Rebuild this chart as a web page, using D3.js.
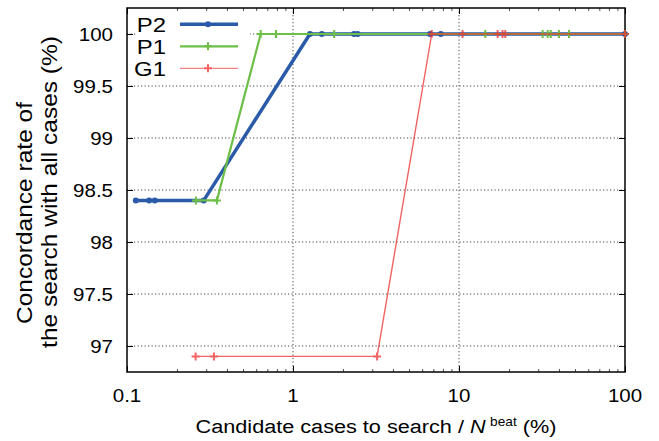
<!DOCTYPE html>
<html>
<head>
<meta charset="utf-8">
<script src="https://cdn.jsdelivr.net/npm/d3@7"></script>
<style>
html,body{margin:0;padding:0;background:#fff;}
svg{display:block;font-family:"Liberation Sans",Arial,Helvetica,sans-serif;}
</style>
</head>
<body>
<svg id="chart" width="659" height="441"></svg>
<script>
// ---- data ----
const p2X = [0.113, 0.136, 0.147, 0.29, 1.265, 1.49, 2.33, 2.45, 6.69, 7.77, 100];
const p2Y = [98.4, 98.4, 98.4, 98.4, 100, 100, 100, 100, 100, 100, 100];
const p1X = [0.26, 0.348, 0.639, 0.79, 1.77, 14.4, 31.9, 34.2, 35.7, 40, 46, 100];
const p1Y = [98.4, 98.4, 100, 100, 100, 100, 100, 100, 100, 100, 100, 100];
const g1X = [0.259, 0.334, 3.21, 6.85, 10.5, 17.1, 18.3, 19.0, 100];
const g1Y = [96.9, 96.9, 96.9, 100, 100, 100, 100, 100, 100];
const xTicks = [0.1, 1, 10, 100];
const xTickLabels = ["0.1", "1", "10", "100"];
const yTicks = [97, 97.5, 98, 98.5, 99, 99.5, 100];
const yTickLabels = ["97", "97.5", "98", "98.5", "99", "99.5", "100"];
const seriesNames = ["P2", "P1", "G1"];

// ---- layout ----
const L = 127, R = 625, T = 8, B = 372;
const SX = 1.14; // horizontal glyph stretch
const svg = d3.select("#chart");
const x = d3.scaleLog().domain([0.1, 100]).range([L, R]);
const y = d3.scaleLinear().domain([96.75, 100.25]).range([B, T]);

const colors = {P2: "#2a5aa8", P1: "#6cbf47", G1: "#ee3030"};

// grid
const gridG = svg.append("g").attr("stroke", "#444").attr("stroke-width", 1)
  .attr("stroke-dasharray", "1.2,2.3");
xTicks.filter(v => v > 0.1 && v < 100).forEach(v => {
  gridG.append("line").attr("x1", x(v)).attr("x2", x(v)).attr("y1", T).attr("y2", B);
});
yTicks.forEach(v => {
  gridG.append("line").attr("x1", L).attr("x2", R).attr("y1", y(v)).attr("y2", y(v));
});

// legend background (opaque key)
svg.append("rect").attr("x", 136).attr("y", 11).attr("width", 114).attr("height", 70).attr("fill", "#fff");

// axes via d3 (ticks inward)
const minorVals = [];
[0.1, 1, 10].forEach(d => { for (let k = 2; k <= 9; k++) minorVals.push(d * k); });

function styleAxis(g) {
  g.select(".domain").remove();
  g.selectAll("text").remove();
  g.selectAll("line").attr("stroke", "#000").attr("stroke-width", 1);
}
svg.append("g").attr("transform", `translate(0,${B})`)
  .call(d3.axisBottom(x).tickValues(xTicks).tickSize(-6).tickFormat("")).call(styleAxis);
svg.append("g").attr("transform", `translate(0,${T})`)
  .call(d3.axisTop(x).tickValues(xTicks).tickSize(-6).tickFormat("")).call(styleAxis);
svg.append("g").attr("transform", `translate(0,${B})`)
  .call(d3.axisBottom(x).tickValues(minorVals).tickSize(-3).tickFormat("")).call(styleAxis)
  .selectAll("line").attr("stroke", "#555");
svg.append("g").attr("transform", `translate(0,${T})`)
  .call(d3.axisTop(x).tickValues(minorVals).tickSize(-3).tickFormat("")).call(styleAxis)
  .selectAll("line").attr("stroke", "#555");
svg.append("g").attr("transform", `translate(${L},0)`)
  .call(d3.axisLeft(y).tickValues(yTicks).tickSize(-6).tickFormat("")).call(styleAxis);
svg.append("g").attr("transform", `translate(${R},0)`)
  .call(d3.axisRight(y).tickValues(yTicks).tickSize(-6).tickFormat("")).call(styleAxis);

// frame
svg.append("rect").attr("x", L).attr("y", T).attr("width", R - L).attr("height", B - T)
  .attr("fill", "none").attr("stroke", "#000").attr("stroke-width", 1.5);

// tick labels
function stretchedText(px, py, str, size, anchor, rot) {
  return svg.append("text")
    .attr("transform", `translate(${px},${py})` + (rot ? ` rotate(${rot})` : "") + ` scale(${SX},1)`)
    .attr("text-anchor", anchor).attr("font-size", size).attr("fill", "#000").text(str);
}
xTicks.forEach((v, i) => stretchedText(x(v), 402, xTickLabels[i], 18, "middle"));
yTicks.forEach((v, i) => stretchedText(113, y(v) + 6.5, yTickLabels[i], 18, "end"));

// axis titles
const xt = svg.append("text")
  .attr("transform", `translate(${(L + R) / 2},433) scale(${SX},1)`)
  .attr("text-anchor", "middle").attr("font-size", 19).attr("fill", "#000");
xt.append("tspan").text("Candidate cases to search / ");
xt.append("tspan").attr("font-style", "italic").text("N");
xt.append("tspan").attr("font-size", 12).attr("dx", 4).attr("dy", -7).text("beat");
xt.append("tspan").attr("dy", 7).text(" (%)");

stretchedText(32, 213, "Concordance rate of", 21.5, "middle", -90);
stretchedText(57, 192, "the search with all cases (%)", 21.5, "middle", -90);

// series
const series = [
  {name: "P2", xs: p2X, ys: p2Y, w: 3.5, op: 1, marker: "dot"},
  {name: "P1", xs: p1X, ys: p1Y, w: 2.2, op: 1, marker: "plus"},
  {name: "G1", xs: g1X, ys: g1Y, w: 1.4, op: 0.75, marker: "plus"}
];
const line = d3.line().x(d => x(d[0])).y(d => y(d[1]));
function drawMarker(g, cx, cy, s, type) {
  if (type === "dot") {
    g.append("circle").attr("cx", cx).attr("cy", cy).attr("r", 3).attr("fill", colors[s.name]);
  } else {
    const a = 4;
    g.append("path").attr("d", `M${cx - a},${cy}H${cx + a}M${cx},${cy - a}V${cy + a}`)
      .attr("stroke", colors[s.name]).attr("stroke-width", 2).attr("fill", "none");
  }
}
series.forEach(s => {
  const pts = s.xs.map((v, i) => [v, s.ys[i]]);
  const g = svg.append("g").attr("opacity", s.op);
  g.append("path").attr("d", line(pts)).attr("fill", "none")
    .attr("stroke", colors[s.name]).attr("stroke-width", s.w).attr("stroke-linejoin", "round");
  pts.forEach(p => drawMarker(g, x(p[0]), y(p[1]), s, s.marker));
});

// legend
const legY = [24.3, 46.3, 68.3];
series.forEach((s, i) => {
  stretchedText(166, legY[i] + 7.5, seriesNames[i], 21, "end");
  const g = svg.append("g").attr("opacity", s.op);
  g.append("line").attr("x1", 180).attr("x2", 238).attr("y1", legY[i]).attr("y2", legY[i])
    .attr("stroke", colors[s.name]).attr("stroke-width", s.name === "G1" ? 1 : s.w);
  drawMarker(g, 208, legY[i], s, s.marker);
});
</script>
</body>
</html>
